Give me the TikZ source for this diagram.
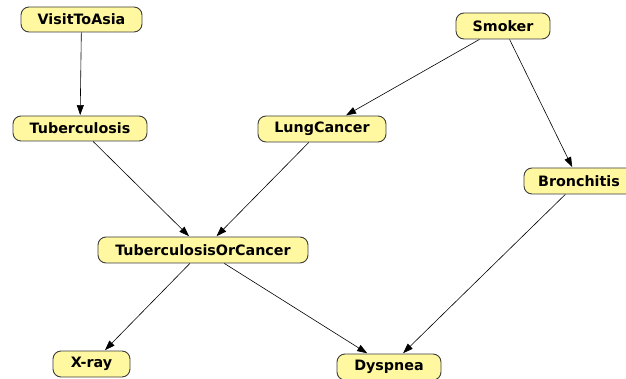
\documentclass[tikz,border=0pt]{standalone}
\usepackage{fontspec}
\setmainfont{DejaVu Sans}
\usetikzlibrary{arrows.meta}
\definecolor{nodefill}{RGB}{255,248,160}
\definecolor{nodeline}{RGB}{60,60,60}
\tikzset{
  bnode/.style={draw=nodeline, line width=0.9pt, fill=nodefill, rounded corners=8pt,
    inner xsep=0pt, inner ysep=0pt, minimum height=26pt,
    font=\fontsize{14.3}{16}\selectfont\bfseries},
  link/.style={draw=black, line width=0.6pt, -{Triangle[length=10pt,width=7pt]}, shorten >=0.5pt}
}
\begin{document}
\begin{tikzpicture}[x=1pt,y=-1pt]
\useasboundingbox (0,0) rectangle (626,379);
\node[bnode, minimum width=121pt, minimum height=25pt] (asia) at (81.5,19.5) {VisitToAsia};
\node[bnode, minimum width=94pt] (smoker) at (503,26) {Smoker};
\node[bnode, minimum width=134pt, minimum height=25pt] (tub) at (80,128.5) {Tuberculosis};
\node[bnode, minimum width=128pt] (lung) at (322,129) {LungCancer};
\node[bnode, minimum width=110pt] (bronc) at (579,181) {Bronchitis};
\node[bnode, minimum width=210pt] (either) at (203,250) {TuberculosisOrCancer};
\node[bnode, minimum width=77pt] (xray) at (91.5,364) {X-ray};
\node[bnode, minimum width=104pt] (dysp) at (389,367) {Dyspnea};
\draw[link] (asia) -- (tub);
\draw[link] (smoker) -- (lung);
\draw[link] (smoker) -- (bronc);
\draw[link] (tub) -- (either);
\draw[link] (lung) -- (either);
\draw[link] (either) -- (xray);
\draw[link] (either) -- (dysp);
\draw[link] (bronc) -- (dysp);
\end{tikzpicture}
\end{document}
